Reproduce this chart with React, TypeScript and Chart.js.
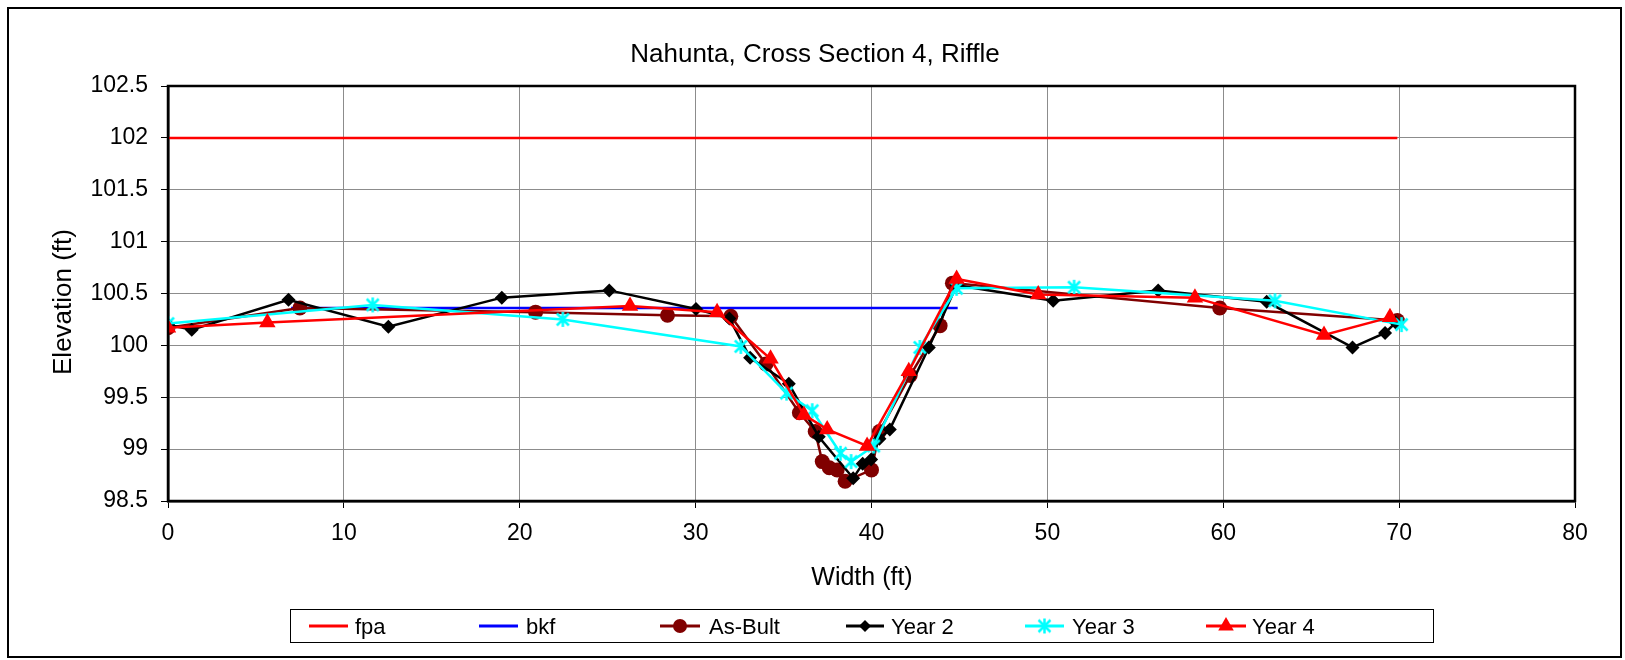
import React, { useEffect, useRef } from 'react';
import { Chart, registerables } from 'chart.js';
Chart.register(...registerables);

const TITLE = 'Nahunta, Cross Section 4, Riffle';
const X_TITLE = 'Width (ft)';
const Y_TITLE = 'Elevation (ft)';
const FONT = '"Liberation Sans", Arial, sans-serif';

const FPA_X = [0, 69.9];
const FPA_Y = [102, 102];
const BKF_X = [7.0, 44.9];
const BKF_Y = [100.36, 100.36];
const ASBUILT_X = [0, 7.5, 20.9, 28.4, 32.0, 34.0, 35.9, 36.8, 37.2, 37.6, 38.05, 38.5, 40.0, 40.45, 42.2, 43.9, 44.6, 59.8, 69.9];
const ASBUILT_Y = [100.17, 100.36, 100.32, 100.29, 100.28, 99.82, 99.35, 99.17, 98.88, 98.82, 98.8, 98.69, 98.8, 99.17, 99.71, 100.19, 100.6, 100.36, 100.24];
const YEAR2_X = [0, 1.35, 6.85, 12.53, 18.98, 25.09, 30.02, 31.92, 33.1, 35.3, 37.0, 38.96, 39.5, 39.98, 40.45, 41.04, 43.26, 44.84, 50.33, 56.3, 62.47, 67.35, 69.2, 69.8];
const YEAR2_Y = [100.2, 100.15, 100.44, 100.18, 100.46, 100.53, 100.35, 100.26, 99.88, 99.63, 99.12, 98.72, 98.86, 98.9, 99.1, 99.19, 99.98, 100.58, 100.43, 100.53, 100.42, 99.98, 100.12, 100.22];
const YEAR3_X = [0, 11.64, 22.45, 32.57, 35.17, 36.63, 38.24, 38.84, 40.13, 42.75, 44.84, 51.52, 62.94, 70.14];
const YEAR3_Y = [100.21, 100.39, 100.25, 99.99, 99.54, 99.37, 98.96, 98.88, 99.03, 99.98, 100.55, 100.56, 100.43, 100.2];
const YEAR4_X = [0, 5.65, 26.27, 31.22, 34.26, 36.16, 37.48, 39.75, 42.12, 44.84, 49.48, 58.39, 65.73, 69.48];
const YEAR4_Y = [100.17, 100.22, 100.38, 100.32, 99.87, 99.33, 99.19, 99.03, 99.75, 100.64, 100.49, 100.46, 100.1, 100.27];

const X_MIN = 0, X_MAX = 80, X_STEP = 10;
const Y_MIN = 98.5, Y_MAX = 102.5, Y_STEP = 0.5;

const pts = (xs: number[], ys: number[]) => xs.map((x, i) => ({ x, y: ys[i] }));

function makeStar(color: string, size: number) {
  const c = document.createElement('canvas');
  c.width = size; c.height = size;
  const g = c.getContext('2d')!;
  g.strokeStyle = color; g.lineWidth = 2.5; g.lineCap = 'butt';
  const m = size / 2, r = size / 2 - 1;
  g.beginPath();
  g.moveTo(m, m - r); g.lineTo(m, m + r);
  const d = r * 0.8;
  g.moveTo(m - d, m - d); g.lineTo(m + d, m + d);
  g.moveTo(m + d, m - d); g.lineTo(m - d, m + d);
  g.stroke();
  return c;
}

function drawMarker(ctx: CanvasRenderingContext2D, style: any, x: number, y: number, r: number, color: string) {
  ctx.save();
  ctx.fillStyle = color; ctx.strokeStyle = color;
  if (style === 'circle') {
    ctx.beginPath(); ctx.arc(x, y, r, 0, Math.PI * 2); ctx.fill();
  } else if (style === 'rectRot') {
    ctx.beginPath(); ctx.moveTo(x, y - r); ctx.lineTo(x + r, y); ctx.lineTo(x, y + r); ctx.lineTo(x - r, y); ctx.closePath(); ctx.fill();
  } else if (style === 'triangle') {
    const s = r * Math.sqrt(3);
    ctx.beginPath(); ctx.moveTo(x, y - r); ctx.lineTo(x + s / 2, y + r / 2); ctx.lineTo(x - s / 2, y + r / 2); ctx.closePath(); ctx.fill();
  } else if (style && style.width) {
    ctx.drawImage(style, x - style.width / 2, y - style.height / 2);
  }
  ctx.restore();
}

export default function App() {
  const ref = useRef<HTMLCanvasElement | null>(null);
  useEffect(() => {
    const star = makeStar('#00FFFF', 17);
    const legendItems = [
      { label: 'fpa', color: '#FF0000', style: null, r: 0, x1: 309, x2: 348, tx: 355 },
      { label: 'bkf', color: '#0000FF', style: null, r: 0, x1: 479, x2: 518, tx: 526 },
      { label: 'As-Bult', color: '#800000', style: 'circle', r: 7, x1: 660, x2: 700, tx: 709 },
      { label: 'Year 2', color: '#000000', style: 'rectRot', r: 6, x1: 846, x2: 884, tx: 891 },
      { label: 'Year 3', color: '#00FFFF', style: star, r: 7, x1: 1025, x2: 1064, tx: 1072 },
      { label: 'Year 4', color: '#FF0000', style: 'triangle', r: 9, x1: 1206, x2: 1246, tx: 1252 },
    ];
    const decor = {
      id: 'decor',
      beforeDraw(chart: any) {
        const ctx = chart.ctx as CanvasRenderingContext2D;
        ctx.save();
        ctx.fillStyle = '#fff';
        ctx.fillRect(0, 0, chart.width, chart.height);
        ctx.restore();
      },
      afterDatasetsDraw(chart: any) {
        const ctx = chart.ctx as CanvasRenderingContext2D;
        const a = chart.chartArea;
        ctx.save();
        ctx.strokeStyle = '#000'; ctx.lineWidth = 2.5;
        ctx.strokeRect(a.left, a.top, a.right - a.left, a.bottom - a.top);
        ctx.restore();
      },
      afterDraw(chart: any) {
        const ctx = chart.ctx as CanvasRenderingContext2D;
        ctx.save();
        ctx.strokeStyle = '#000'; ctx.lineWidth = 2;
        ctx.strokeRect(8, 8, 1613, 649);
        ctx.fillStyle = '#000';
        ctx.textAlign = 'center'; ctx.textBaseline = 'alphabetic';
        ctx.font = `26px ${FONT}`;
        ctx.fillText(TITLE, 815, 62);
        ctx.font = `25px ${FONT}`;
        ctx.fillText(X_TITLE, 862, 585);
        ctx.save();
        ctx.translate(71, 302);
        ctx.rotate(-Math.PI / 2);
        ctx.font = `26px ${FONT}`;
        ctx.fillText(Y_TITLE, 0, 0);
        ctx.restore();
        ctx.lineWidth = 1; ctx.strokeStyle = '#000';
        ctx.strokeRect(290.5, 609.5, 1143, 33);
        ctx.font = `22px ${FONT}`;
        ctx.textAlign = 'left';
        const ly = 626;
        for (const it of legendItems) {
          ctx.strokeStyle = it.color; ctx.lineWidth = 3;
          ctx.beginPath(); ctx.moveTo(it.x1, ly); ctx.lineTo(it.x2, ly); ctx.stroke();
          if (it.style) drawMarker(ctx, it.style, (it.x1 + it.x2) / 2, ly, it.r, it.color);
          ctx.fillStyle = '#000';
          ctx.fillText(it.label, it.tx, ly + 8);
        }
        ctx.restore();
      },
    };

    const common = { showLine: true, borderWidth: 2.5, pointHoverRadius: 0 };
    const chart = new Chart(ref.current!, {
      type: 'scatter',
      data: {
        datasets: [
          { ...common, label: 'fpa', data: pts(FPA_X, FPA_Y), borderColor: '#FF0000', backgroundColor: '#FF0000', pointRadius: 0, order: 5 },
          { ...common, label: 'bkf', data: pts(BKF_X, BKF_Y), borderColor: '#0000FF', backgroundColor: '#0000FF', pointRadius: 0, order: 4 },
          { ...common, label: 'As-Bult', data: pts(ASBUILT_X, ASBUILT_Y), borderColor: '#800000', backgroundColor: '#800000', pointStyle: 'circle', pointRadius: 7.5, pointBorderWidth: 0, order: 3 },
          { ...common, label: 'Year 2', data: pts(YEAR2_X, YEAR2_Y), borderColor: '#000000', backgroundColor: '#000000', pointStyle: 'rectRot', pointRadius: 7, pointBorderWidth: 0, order: 2 },
          { ...common, label: 'Year 3', data: pts(YEAR3_X, YEAR3_Y), borderColor: '#00FFFF', backgroundColor: '#00FFFF', pointStyle: star as any, pointRadius: 8, order: 1 },
          { ...common, label: 'Year 4', data: pts(YEAR4_X, YEAR4_Y), borderColor: '#FF0000', backgroundColor: '#FF0000', pointStyle: 'triangle', pointRadius: 9.5, pointBorderWidth: 0, order: 0 },
        ],
      },
      options: {
        animation: false,
        responsive: false,
        maintainAspectRatio: false,
        devicePixelRatio: 1,
        layout: { padding: { top: 86, right: 50, left: 0, bottom: 0 } },
        plugins: { legend: { display: false }, title: { display: false }, tooltip: { enabled: false } },
        events: [],
        scales: {
          x: {
            type: 'linear', min: X_MIN, max: X_MAX,
            afterFit: (s: any) => { s.height = 159; },
            ticks: { stepSize: X_STEP, color: '#000', font: { family: FONT, size: 23 }, padding: 12, maxRotation: 0 },
            grid: { color: '#8c8c8c', lineWidth: 1, tickLength: 7, tickColor: '#000' },
            border: { display: true, color: '#000', width: 2.5 },
          },
          y: {
            type: 'linear', min: Y_MIN, max: Y_MAX,
            afterFit: (s: any) => { s.width = 168; },
            ticks: { stepSize: Y_STEP, color: '#000', font: { family: FONT, size: 23 }, padding: 13, callback: (v: any) => String(v) },
            grid: { color: '#8c8c8c', lineWidth: 1, tickLength: 7, tickColor: '#000' },
            border: { display: true, color: '#000', width: 2.5 },
          },
        },
      },
      plugins: [decor],
    } as any);
    return () => chart.destroy();
  }, []);
  return (
    <div style={{ position: 'absolute', left: 0, top: 0, width: 1625, height: 660, background: '#fff' }}>
      <canvas ref={ref} width={1625} height={660} style={{ display: 'block', width: 1625, height: 660 }} />
    </div>
  );
}
